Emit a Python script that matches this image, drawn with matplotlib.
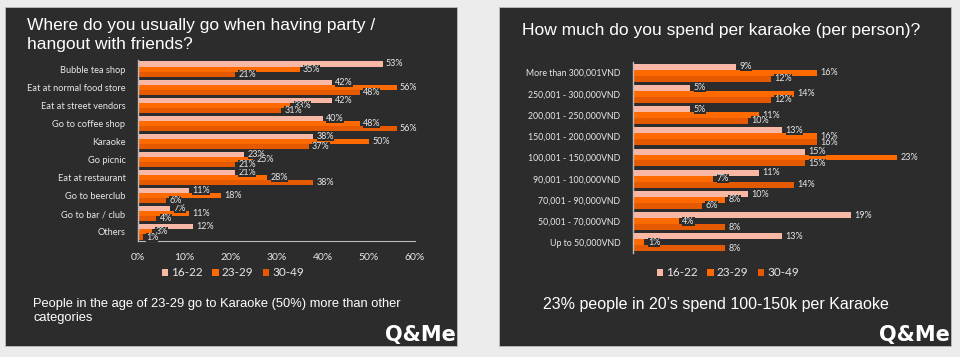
import numpy as np
import matplotlib
matplotlib.use('Agg')
import matplotlib.pyplot as plt
from matplotlib.patches import Rectangle, Patch

# left chart
venues = ['Bubble tea shop', 'Eat at normal food store', 'Eat at street vendors',
          'Go to coffee shop', 'Karaoke', 'Go picnic', 'Eat at restaurant',
          'Go to beerclub', 'Go to bar / club', 'Others']
venue_16_22 = [53, 42, 42, 40, 38, 23, 21, 11, 7, 12]
venue_23_29 = [35, 56, 33, 48, 50, 25, 28, 18, 11, 3]
venue_30_49 = [21, 48, 31, 56, 37, 21, 38, 6, 4, 1]
venue_ticks = [0, 10, 20, 30, 40, 50, 60]

# right chart
spend = ['More than 300,001VND', '250,001 - 300,000VND', '200,001 - 250,000VND',
         '150,001 - 200,000VND', '100,001 - 150,000VND', '90,001 - 100,000VND',
         '70,001 - 90,000VND', '50,001 - 70,000VND', 'Up to 50,000VND']
spend_16_22 = [9, 5, 5, 13, 15, 11, 10, 19, 13]
spend_23_29 = [16, 14, 11, 16, 23, 7, 8, 4, 1]
spend_30_49 = [12, 12, 10, 16, 15, 14, 6, 8, 8]

groups = ['16-22', '23-29', '30-49']
colors = ['#f9b8a6', '#ff6a00', '#e55a00']
panel_bg = '#2c2c2c'
txt = '#e8e8e8'

plt.rcParams['font.family'] = ['Liberation Sans', 'DejaVu Sans']

fig = plt.figure(figsize=(9.6, 3.57), dpi=100)
fig.patch.set_facecolor('#ececec')


def px(x0, y0, w, h):
    # pixel box (top-left origin) -> figure fraction
    return [x0 / 960, 1 - (y0 + h) / 357, w / 960, h / 357]


for x0 in (5, 499):
    fig.patches.append(Rectangle((x0 / 960, 1 - 346 / 357), 452 / 960, 339 / 357,
                                 transform=fig.transFigure, facecolor=panel_bg,
                                 edgecolor='#bdbdbd', lw=0.6, zorder=-10))


def bars(ax, cats, series, xmax, lab_fs, cat_fs):
    n = len(cats)
    y = np.arange(n)
    h = 0.28
    for i, vals in enumerate(series):
        yy = y + (i - 1) * h
        ax.barh(yy, vals, height=h, color=colors[i], zorder=2)
        for v, yv in zip(vals, yy):
            ax.text(v + xmax * 0.012, yv, f'{v}%', va='center', ha='left',
                    fontsize=lab_fs, color=txt, family='Lato', zorder=3,
                    bbox=dict(boxstyle='square,pad=0.0', fc=panel_bg, ec='none'))
    ax.set_ylim(n - 0.5, -0.5)
    ax.set_xlim(0, xmax)
    ax.set_yticks(y)
    ax.set_yticklabels(cats, fontsize=cat_fs, color=txt, family='Lato')
    ax.tick_params(axis='y', length=0, pad=9)
    ax.set_facecolor('none')
    for s in ('top', 'right'):
        ax.spines[s].set_visible(False)
    ax.spines['left'].set_color('#bbbbbb')
    ax.spines['left'].set_linewidth(1.0)


# ---- left
ax1 = fig.add_axes(px(138, 60, 277, 181))
bars(ax1, venues, [venue_16_22, venue_23_29, venue_30_49], 60, 6.5, 6.7)
ax1.set_xticks(venue_ticks)
ax1.set_xticklabels([f'{t}%' for t in venue_ticks], fontsize=7.5, color=txt, family='Lato')
ax1.tick_params(axis='x', length=0, pad=9)
ax1.spines['bottom'].set_color('#bbbbbb')

# ---- right
ax2 = fig.add_axes(px(633, 62, 287, 191))
bars(ax2, spend, [spend_16_22, spend_23_29, spend_30_49], 25, 6.5, 6.3)
ax2.set_xticks([])
ax2.spines['bottom'].set_visible(False)

handles = [Patch(facecolor=c, edgecolor='none') for c in colors]
for cx in (233 / 960, 728 / 960):
    leg = fig.legend(handles, groups, loc='center', bbox_to_anchor=(cx, 1 - 273 / 357),
                     ncol=3, frameon=False, handlelength=0.55, handleheight=0.55,
                     handletextpad=0.25, columnspacing=0.8, prop={'family': 'Lato', 'size': 8.5})
    for t in leg.get_texts():
        t.set_color(txt)

# titles and captions
fig.text(27 / 960, 1 - 35 / 357, 'Where do you usually go when having party /\nhangout with friends?',
         fontsize=12.5, color='white', va='center', ha='left', linespacing=1.3)
fig.text(721 / 960, 1 - 30 / 357, 'How much do you spend per karaoke (per person)?',
         fontsize=12.5, color='white', va='center', ha='center')
fig.text(33 / 960, 1 - 311 / 357,
         'People in the age of 23-29 go to Karaoke (50%) more than other\ncategories',
         fontsize=9.3, color='white', va='center', ha='left', linespacing=1.3)
fig.text(716 / 960, 1 - 305 / 357, "23% people in 20\u2019s spend 100-150k per Karaoke",
         fontsize=11.5, color='white', va='center', ha='center')

for lx in (456, 950):
    fig.text(lx / 960, 1 - 335 / 357, 'Q&Me', fontsize=15, fontweight='heavy',
             color='white', ha='right', va='center', family='DejaVu Sans Condensed')

fig.savefig('out.png', dpi=100, facecolor=fig.get_facecolor())
